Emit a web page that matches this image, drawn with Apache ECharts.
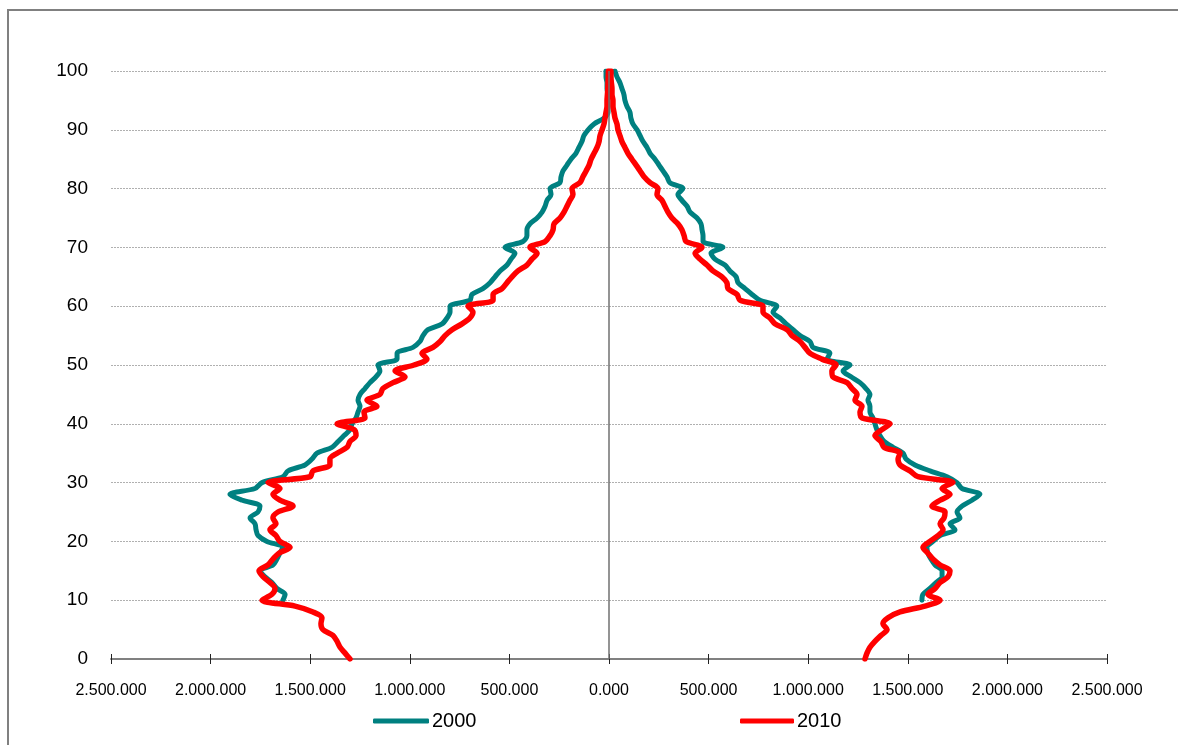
<!DOCTYPE html>
<html>
<head>
<meta charset="utf-8">
<script src="https://cdn.jsdelivr.net/npm/echarts@6/dist/echarts.min.js"></script>
<style>
html,body{margin:0;padding:0;background:#fff;}
#frame{position:absolute;left:7px;top:9px;width:1180px;height:760px;border-left:2px solid #808080;border-top:2px solid #808080;}
#chart{position:absolute;left:0;top:0;width:1178px;height:745px;}
</style>
</head>
<body>
<div id="frame"></div>
<div id="chart"></div>
<script>
// Ages 0..100
const ages = Array.from({length: 101}, (_, i) => i);
const xTicks = [-2500000, -2000000, -1500000, -1000000, -500000, 0, 500000, 1000000, 1500000, 2000000, 2500000];
const yTicks = [0, 10, 20, 30, 40, 50, 60, 70, 80, 90, 100];

// Population in thousands. 2000 series start at age 10 (null below).
const male2010 = [
 -1300,-1325,-1350,-1365,-1386,-1436,-1446,-1441,-1486,-1576,
 -1742,-1692,-1677,-1702,-1737,-1757,-1712,-1687,-1657,-1601,
 -1652,-1672,-1702,-1672,-1687,-1662,-1586,-1652,-1687,-1652,
 -1712,-1501,-1486,-1401,-1401,-1365,-1315,-1300,-1270,-1280,
 -1365,-1225,-1230,-1165,-1215,-1150,-1135,-1084,-1024,-1074,
 -979,-914,-939,-884,-848,-823,-788,-738,-698,-683,
 -708,-582,-582,-537,-512,-487,-457,-412,-387,-361,
 -397,-321,-296,-281,-276,-246,-226,-211,-196,-181,
 -186,-146,-131,-115,-100,-90,-75,-60,-50,-45,
 -35,-25,-20,-15,-10,-10,-8,-6,-5,-4,-3
];
const female2010 = [
 1285,1295,1310,1335,1365,1396,1375,1401,1461,1586,
 1662,1601,1637,1662,1702,1712,1662,1626,1601,1576,
 1611,1652,1677,1662,1682,1687,1621,1662,1712,1672,
 1727,1551,1511,1461,1451,1461,1381,1365,1335,1370,
 1411,1270,1260,1270,1235,1245,1220,1195,1124,1119,
 1140,1069,1009,984,959,919,894,833,808,773,
 773,658,643,597,592,567,522,492,457,432,
 467,387,377,366,346,316,296,281,266,241,
 246,206,176,156,136,115,95,80,65,55,
 45,40,30,25,20,20,15,15,12,10,10
];
const male2000 = [
 null,null,null,null,null,null,null,null,null,null,
 -1637,-1626,-1667,-1692,-1727,-1752,-1687,-1667,-1652,-1637,
 -1717,-1762,-1772,-1777,-1802,-1762,-1752,-1840,-1903,-1777,
 -1742,-1637,-1611,-1526,-1491,-1466,-1391,-1360,-1330,-1300,
 -1290,-1270,-1260,-1250,-1260,-1250,-1225,-1200,-1170,-1150,
 -1160,-1064,-1064,-984,-949,-934,-909,-838,-813,-798,
 -798,-698,-688,-633,-597,-572,-547,-512,-492,-472,
 -522,-432,-412,-412,-397,-361,-336,-321,-311,-291,
 -296,-246,-241,-231,-211,-191,-166,-151,-136,-126,
 -105,-75,-25,-5,-5,-5,-5,-10,-10,-15,-15
];
const female2000 = [
 null,null,null,null,null,null,null,null,null,null,
 1571,1576,1611,1642,1672,1672,1637,1616,1601,1596,
 1626,1662,1737,1712,1762,1747,1772,1822,1862,1772,
 1747,1697,1611,1536,1491,1476,1426,1381,1360,1345,
 1335,1325,1310,1310,1300,1310,1290,1260,1215,1175,
 1210,1094,1109,1024,1009,959,924,889,858,823,
 843,758,718,683,648,638,607,582,532,512,
 572,472,472,467,462,442,407,392,366,346,
 371,306,291,271,251,231,206,191,171,156,
 141,120,110,105,90,80,75,65,55,40,30
];

const TEAL = '#008080';
const RED = '#FF0000';

function pairs(vals) {
  const out = [];
  for (let i = 0; i < ages.length; i++) {
    if (vals[i] !== null) out.push([vals[i] * 1000, ages[i]]);
  }
  return out;
}

function fmt(v) {
  if (v === 0) return '0.000';
  const s = String(Math.abs(v));
  return s.replace(/\B(?=(\d{3})+(?!\d))/g, '.');
}

const chart = echarts.init(document.getElementById('chart'), null, {renderer: 'canvas'});

const lineSeries = (name, data, color, width, z) => ({
  name: name,
  type: 'line',
  data: data,
  showSymbol: false,
  symbol: 'none',
  smooth: 0.3,
  lineStyle: {color: color, width: width, join: 'round', cap: 'round'},
  itemStyle: {color: color},
  z: z,
  silent: true,
  animation: false
});

const FONT = 'Liberation Sans, Arial, sans-serif';

const option = {
  animation: false,
  backgroundColor: 'transparent',
  grid: {left: 111, right: 71, top: 71, bottom: 86, containLabel: false},
  xAxis: [{
    type: 'value',
    min: xTicks[0],
    max: xTicks[xTicks.length - 1],
    interval: 500000,
    axisLine: {show: true, onZero: false, lineStyle: {color: '#808080', width: 2}},
    axisTick: {show: true, length: 5, lineStyle: {color: '#222', width: 1}},
    axisLabel: {show: true, margin: 24, color: '#000', fontFamily: FONT, fontSize: 16, formatter: fmt},
    splitLine: {show: false}
  }, {
    type: 'value',
    position: 'bottom',
    min: xTicks[0],
    max: xTicks[xTicks.length - 1],
    interval: 500000,
    axisLine: {show: false},
    axisTick: {show: true, inside: true, length: 5, lineStyle: {color: '#222', width: 1}},
    axisLabel: {show: false},
    splitLine: {show: false}
  }],
  yAxis: {
    type: 'value',
    min: yTicks[0],
    max: yTicks[yTicks.length - 1],
    interval: 10,
    axisLine: {show: false},
    axisTick: {show: false},
    axisLabel: {margin: 23, color: '#000', fontFamily: FONT, fontSize: 19},
    splitLine: {show: true, lineStyle: {color: '#b0b0b0', type: [2, 1], width: 1}}
  },
  legend: [{
    data: ['2000'],
    left: 373,
    top: 711,
    padding: 0,
    itemWidth: 56,
    itemHeight: 5,
    icon: 'roundRect',
    itemGap: 4,
    textStyle: {color: '#000', fontFamily: FONT, fontSize: 20, padding: [0, 0, 0, -2]},
    selectedMode: false
  }, {
    data: ['2010'],
    left: 740,
    top: 711,
    padding: 0,
    itemWidth: 54,
    itemHeight: 5,
    icon: 'roundRect',
    itemGap: 4,
    textStyle: {color: '#000', fontFamily: FONT, fontSize: 20, padding: [0, 0, 0, -2]},
    selectedMode: false
  }],
  series: [
    Object.assign(lineSeries('2000', pairs(male2000), TEAL, 5, 2), {
      markLine: {
        silent: true, symbol: 'none', label: {show: false},
        lineStyle: {color: '#707070', width: 1.5, type: 'solid'},
        data: [{xAxis: 0}]
      }
    }),
    lineSeries('2000', pairs(female2000), TEAL, 5, 2),
    lineSeries('2010', pairs(male2010), RED, 5.5, 3),
    lineSeries('2010', pairs(female2010), RED, 5.5, 3)
  ]
};

chart.setOption(option);
</script>
</body>
</html>
